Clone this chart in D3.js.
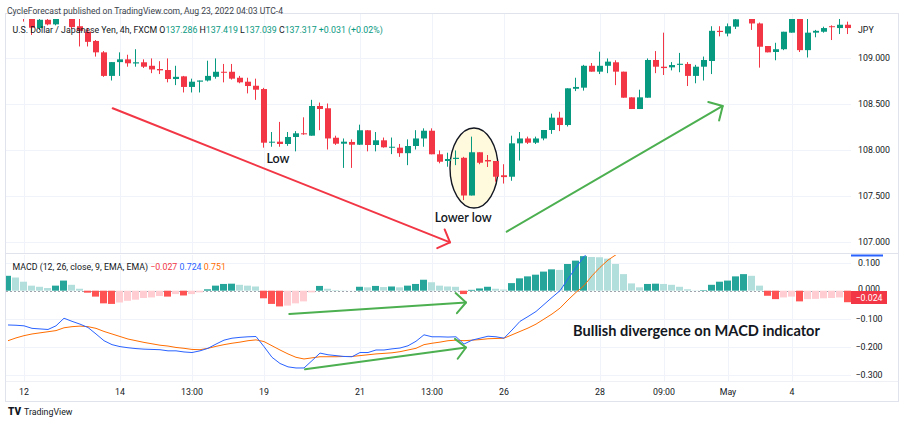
<!DOCTYPE html>
<html><head><meta charset="utf-8">
<script src="https://cdn.jsdelivr.net/npm/d3@7"></script>
<style>body{margin:0;background:#fff}svg{display:block}</style>
</head><body><svg id="c" width="904" height="426"></svg>
<script>
// ---- DATA (bar index 0 = first 4h bar at left edge) ----
const opens  = [109.62,109.58,109.55,109.48,109.32,109.41,109.36,109.45,109.50,109.34,109.28,109.18,109.056,108.80,108.95,108.98,108.935,108.948,108.91,108.875,108.864,108.766,108.795,108.68,108.737,108.75,108.79,108.845,108.845,108.78,108.737,108.693,108.657,108.074,108.085,108.06,108.136,108.176,108.15,108.473,108.448,108.128,108.063,108.082,108.052,108.209,108.049,108.10,108.024,108.02,107.96,108.038,108.12,108.204,107.948,107.875,107.897,107.91,107.50,107.97,107.886,107.875,107.72,107.704,108.067,108.12,108.074,108.12,108.212,108.346,108.266,108.66,108.672,108.91,108.846,108.91,108.948,108.846,108.567,108.44,108.563,108.973,108.90,108.893,108.92,108.93,108.80,108.90,108.962,109.29,109.26,109.335,109.43,109.45,109.37,109.125,109.06,109.09,109.27,109.46,109.08,109.27,109.28,109.34,109.32,109.356];
const highs  = [109.68,109.64,109.60,109.52,109.46,109.46,109.48,109.53,109.52,109.42,109.32,109.19,109.07,108.95,109.056,109.03,109.09,108.98,108.99,108.96,108.99,108.91,108.80,108.77,108.75,108.965,108.99,108.93,108.93,108.80,108.78,108.77,108.67,108.19,108.30,108.19,108.20,108.35,108.54,108.51,108.50,108.15,108.12,108.11,108.27,108.21,108.19,108.13,108.13,108.06,108.11,108.21,108.23,108.23,107.99,107.965,107.99,107.92,108.14,107.97,107.94,107.875,107.84,108.15,108.19,108.14,108.14,108.21,108.39,108.41,108.665,108.78,108.92,108.94,109.063,108.99,108.97,108.846,108.567,108.65,108.99,109.07,109.27,108.95,109.05,108.95,108.92,109.01,109.34,109.34,109.37,109.45,109.52,109.50,109.38,109.125,109.16,109.28,109.50,109.50,109.42,109.30,109.335,109.35,109.42,109.39];
const lows   = [109.55,109.50,109.39,109.245,109.30,109.35,109.35,109.44,109.31,109.12,109.12,109.01,108.79,108.75,108.80,108.90,108.90,108.886,108.83,108.82,108.73,108.70,108.62,108.62,108.62,108.74,108.77,108.73,108.76,108.72,108.61,108.54,108.02,108.03,108.03,108.04,107.98,108.16,108.15,108.21,108.00,108.05,107.80,107.80,108.05,107.98,107.98,108.02,107.95,107.92,107.83,108.00,108.03,107.948,107.85,107.813,107.83,107.45,107.50,107.84,107.81,107.65,107.63,107.66,107.88,108.06,108.06,108.10,108.17,108.20,108.25,108.635,108.64,108.846,108.82,108.83,108.70,108.563,108.44,108.44,108.563,108.83,108.81,108.86,108.84,108.69,108.72,108.75,108.82,109.23,109.23,109.31,109.43,109.30,108.89,109.056,108.97,109.08,109.27,109.06,109.00,109.22,109.27,109.19,109.255,109.255];
const closes = [109.58,109.60,109.46,109.324,109.41,109.36,109.45,109.50,109.33,109.29,109.17,109.056,108.80,108.95,108.98,108.937,108.948,108.90,108.87,108.86,108.766,108.79,108.68,108.737,108.75,108.80,108.845,108.838,108.77,108.73,108.69,108.65,108.074,108.085,108.06,108.136,108.176,108.165,108.473,108.44,108.12,108.063,108.085,108.052,108.209,108.049,108.10,108.024,108.03,107.96,108.038,108.12,108.204,107.948,107.867,107.897,107.91,107.50,107.97,107.856,107.87,107.704,107.70,108.067,108.12,108.074,108.12,108.212,108.346,108.266,108.665,108.68,108.91,108.846,108.91,108.955,108.846,108.563,108.44,108.567,108.973,108.90,108.885,108.918,108.932,108.80,108.90,108.973,109.29,109.277,109.34,109.415,109.48,109.37,109.117,109.056,109.09,109.28,109.46,109.08,109.27,109.29,109.32,109.33,109.356,109.32];
const macdLine = [-0.122,-0.123,-0.125,-0.134,-0.136,-0.138,-0.125,-0.098,-0.109,-0.119,-0.131,-0.154,-0.178,-0.192,-0.199,-0.203,-0.206,-0.208,-0.209,-0.210,-0.214,-0.214,-0.218,-0.220,-0.214,-0.205,-0.190,-0.176,-0.169,-0.166,-0.164,-0.163,-0.199,-0.237,-0.259,-0.271,-0.275,-0.275,-0.249,-0.222,-0.228,-0.231,-0.234,-0.235,-0.220,-0.220,-0.211,-0.211,-0.207,-0.204,-0.196,-0.180,-0.157,-0.164,-0.164,-0.165,-0.164,-0.190,-0.176,-0.169,-0.162,-0.164,-0.169,-0.140,-0.109,-0.092,-0.074,-0.049,-0.024,0.000,0.042,0.083,0.121,0.150,0.175,0.195,0.205,0.200,0.190,0.185,0.195,0.200,0.205,0.205,0.205,0.200,0.200,0.205,0.225,0.245,0.260,0.280,0.295,0.300,0.285,0.265,0.255,0.255,0.262,0.250,0.250,0.250,0.252,0.252,0.253,0.245];
const signalLine = [-0.178,-0.168,-0.160,-0.154,-0.150,-0.146,-0.142,-0.132,-0.128,-0.126,-0.128,-0.134,-0.145,-0.154,-0.163,-0.172,-0.178,-0.184,-0.189,-0.194,-0.197,-0.202,-0.205,-0.209,-0.210,-0.205,-0.198,-0.192,-0.187,-0.183,-0.178,-0.175,-0.181,-0.196,-0.211,-0.225,-0.237,-0.243,-0.239,-0.235,-0.235,-0.235,-0.234,-0.234,-0.231,-0.228,-0.225,-0.223,-0.221,-0.217,-0.211,-0.205,-0.192,-0.187,-0.183,-0.178,-0.176,-0.178,-0.176,-0.174,-0.171,-0.170,-0.169,-0.157,-0.145,-0.133,-0.119,-0.101,-0.083,-0.062,-0.033,-0.006,0.018,0.053,0.083,0.109,0.128,0.141,0.150,0.157,0.165,0.172,0.178,0.183,0.188,0.191,0.193,0.195,0.200,0.208,0.217,0.228,0.238,0.245,0.250,0.250,0.250,0.252,0.255,0.254,0.254,0.253,0.253,0.253,0.253,0.252];
const histValues = [0.053,0.047,0.032,0.018,0.014,0.0095,0.018,0.036,0.021,0.007,-0.007,-0.021,-0.045,-0.047,-0.042,-0.036,-0.032,-0.026,-0.024,-0.019,-0.021,-0.012,-0.017,-0.012,-0.006,0.005,0.018,0.024,0.025,0.021,0.018,0.015,-0.027,-0.047,-0.056,-0.053,-0.045,-0.038,-0.006,0.017,0.007,0.002,0.001,0.0005,0.014,0.012,0.017,0.013,0.015,0.012,0.018,0.024,0.039,0.030,0.018,0.015,0.014,-0.012,0.003,0.008,0.014,0.007,0.004,0.027,0.044,0.051,0.057,0.068,0.076,0.074,0.095,0.107,0.123,0.120,0.119,0.114,0.095,0.059,0.026,0.012,0.024,0.025,0.024,0.021,0.014,0.005,0.001,0.002,0.021,0.032,0.036,0.051,0.059,0.053,0.018,-0.018,-0.030,-0.024,-0.021,-0.038,-0.030,-0.029,-0.027,-0.026,-0.024,-0.041];
const timeTickIdx = [2,14,23,32,44,53,62,74,82,90,98];
const timeTickLabels = ["12","14","13:00","19","21","13:00","26","28","09:00","May","4"];
const priceTicks = [107,107.5,108,108.5,109];
const macdTicks = [0.1,0,-0.1,-0.2,-0.3];

// ---- STYLE / LAYOUT ----
const GREEN="#089981", RED="#f23645";
const W=904,H=426;
const plotL=6, plotR=851;
const priceTop=19, priceBot=253, macdTop=255, macdBot=381;
const FONT="Roboto, 'Liberation Sans', sans-serif";
const ANN="Lato, 'Open Sans', sans-serif";

const svg=d3.select('#c');
svg.append('rect').attr('width',W).attr('height',H).attr('fill','#fff');

const x = d3.scaleLinear().domain([0,105]).range([8,848]);
const yP = d3.scaleLinear().domain([107,109]).range([241.5,57.5]);
const yM = d3.scaleLinear().domain([-0.3,0.1]).range([375,262.6]);

const defs=svg.append('defs');
defs.append('clipPath').attr('id','clipP').append('rect').attr('x',plotL).attr('y',priceTop).attr('width',plotR-plotL).attr('height',priceBot-priceTop);
defs.append('clipPath').attr('id','clipM').append('rect').attr('x',plotL).attr('y',macdTop).attr('width',plotR-plotL).attr('height',macdBot-macdTop);

// frame
svg.append('rect').attr('x',5.5).attr('y',13.5).attr('width',893).attr('height',388).attr('fill','none').attr('stroke','#e0e3eb');
svg.append('line').attr('x1',6).attr('x2',898).attr('y1',253.5).attr('y2',253.5).attr('stroke','#e0e3eb');
svg.append('line').attr('x1',6).attr('x2',898).attr('y1',381.5).attr('y2',381.5).attr('stroke','#eef0f5');

// header
svg.append('text').attr('x',7).attr('y',14).attr('font-family',FONT).attr('font-size',8.6).attr('fill','#3b3f4a')
  .text('CycleForecast published on TradingView.com, Aug 23, 2022 04:03 UTC-4');

// grid
const grid=svg.append('g').attr('stroke','#f0f3fa').attr('stroke-width',1);
timeTickIdx.forEach(k=>{
  const gx=Math.round(x(k))+0.5;
  grid.append('line').attr('x1',gx).attr('x2',gx).attr('y1',priceTop-5).attr('y2',priceBot);
  grid.append('line').attr('x1',gx).attr('x2',gx).attr('y1',macdTop).attr('y2',macdBot);
});
priceTicks.forEach(p=>{const gy=Math.round(yP(p))+0.5;grid.append('line').attr('x1',plotL).attr('x2',plotR).attr('y1',gy).attr('y2',gy);});
macdTicks.filter(v=>v!==0).forEach(v=>{const gy=Math.round(yM(v))+0.5;grid.append('line').attr('x1',plotL).attr('x2',plotR).attr('y1',gy).attr('y2',gy);});

// ---- PRICE PANE ----
const pg=svg.append('g').attr('clip-path','url(#clipP)');
pg.append('ellipse').attr('cx',x(58.25)).attr('cy',yP(107.799)).attr('rx',24).attr('ry',40)
  .attr('fill','#fff9dd').attr('stroke','#131722').attr('stroke-width',1.4);

const candles=d3.range(opens.length).map(k=>({k,o:opens[k],h:highs[k],l:lows[k],c:closes[k]}));
pg.selectAll('rect.wick').data(candles).join('rect').attr('class','wick')
  .attr('x',d=>Math.round(x(d.k))-1).attr('width',1)
  .attr('y',d=>yP(d.h)).attr('height',d=>Math.max(1,yP(d.l)-yP(d.h)))
  .attr('fill',d=>d.c>=d.o?GREEN:RED);
pg.selectAll('rect.body').data(candles).join('rect').attr('class','body')
  .attr('x',d=>Math.round(x(d.k))-3).attr('width',6)
  .attr('y',d=>yP(Math.max(d.o,d.c))).attr('height',d=>Math.max(1,Math.abs(yP(d.o)-yP(d.c))))
  .attr('fill',d=>d.c>=d.o?GREEN:RED);

function arrow(g,x1,y1,x2,y2,color,len,sw){
  g.append('line').attr('x1',x1).attr('y1',y1).attr('x2',x2).attr('y2',y2).attr('stroke',color).attr('stroke-width',sw).attr('stroke-linecap','round');
  const a=Math.atan2(y2-y1,x2-x1);
  const p=[a+Math.PI-0.8,a+Math.PI+0.8].map(t=>[x2+len*Math.cos(t),y2+len*Math.sin(t)]);
  g.append('path').attr('d',`M${p[0][0]},${p[0][1]}L${x2},${y2}L${p[1][0]},${p[1][1]}`).attr('fill','none')
    .attr('stroke',color).attr('stroke-width',sw).attr('stroke-linecap','round').attr('stroke-linejoin','round');
}
arrow(pg,x(13.09),yP(108.448),x(55.25),yP(106.99),'#f23645',14,2);
arrow(pg,x(62.34),yP(107.107),x(89.34),yP(108.473),'#4caf50',15,2);

pg.append('text').attr('x',x(33.75)).attr('y',yP(107.897)).attr('dy','0.35em').attr('text-anchor','middle')
  .attr('font-family',ANN).attr('font-weight',600).attr('font-size',12.5).attr('fill','#131722').text('Low');
pg.append('text').attr('x',x(56.9)).attr('y',yP(107.259)).attr('dy','0.35em').attr('text-anchor','middle')
  .attr('font-family',ANN).attr('font-weight',600).attr('font-size',12.5).attr('fill','#131722').text('Lower low');

// legend
const lg=svg.append('text').attr('x',12.5).attr('y',32.5).attr('font-family',FONT).attr('font-size',8.8).attr('fill','#131722');
lg.append('tspan').text('U.S. Dollar / Japanese Yen, 4h, FXCM O');
lg.append('tspan').attr('fill',GREEN).text('137.286');
lg.append('tspan').text(' H');
lg.append('tspan').attr('fill',GREEN).text('137.419');
lg.append('tspan').text(' L');
lg.append('tspan').attr('fill',GREEN).text('137.039');
lg.append('tspan').text(' C');
lg.append('tspan').attr('fill',GREEN).text('137.317');
lg.append('tspan').attr('fill',GREEN).text(' +0.031 (+0.02%)');

// price axis
const pa=svg.append('g').attr('transform','translate(858,0)')
  .call(d3.axisRight(yP).tickValues(priceTicks).tickSize(0).tickPadding(0).tickFormat(d3.format('.3f')));
pa.select('.domain').remove();
pa.selectAll('text').attr('font-family',FONT).attr('font-size',8.8).attr('fill','#131722').attr('text-anchor','start');
svg.append('text').attr('x',858).attr('y',32.5).attr('font-family',FONT).attr('font-size',8.8).attr('fill','#131722').text('JPY');

// ---- MACD PANE ----
const mg=svg.append('g').attr('clip-path','url(#clipM)');
mg.append('line').attr('x1',plotL).attr('x2',plotR).attr('y1',Math.round(yM(0))+0.5).attr('y2',Math.round(yM(0))+0.5)
  .attr('stroke','#a0a4ad').attr('stroke-dasharray','2,2');
const hist=histValues.map((v,k)=>{const prev=k>0?histValues[k-1]:-Infinity;
  return {k,v,col: v>=0 ? (v>prev?'#26a69a':'#b2dfdb') : (v<prev?'#ff5252':'#ffcdd2')};});
mg.selectAll('rect.h').data(hist).join('rect').attr('class','h')
  .attr('x',d=>Math.round(x(d.k))-4).attr('width',7)
  .attr('y',d=>Math.min(yM(d.v),yM(0))).attr('height',d=>Math.abs(yM(d.v)-yM(0)))
  .attr('fill',d=>d.col);
const ln=d3.line().x((d,k)=>x(k)).y(d=>yM(d));
mg.append('path').datum(signalLine).attr('d',ln).attr('fill','none').attr('stroke','#ff6d00').attr('stroke-width',1);
mg.append('path').datum(macdLine).attr('d',ln).attr('fill','none').attr('stroke','#2962ff').attr('stroke-width',1);

arrow(mg,x(35.16),yM(-0.0829),x(57.25),yM(-0.042),'#4caf50',14,2);
arrow(mg,x(37.13),yM(-0.2797),x(57.25),yM(-0.2021),'#4caf50',14,2);
mg.append('text').attr('x',x(86.06)).attr('y',yM(-0.1423)).attr('dy','0.35em').attr('text-anchor','middle')
  .attr('font-family',ANN).attr('font-weight',700).attr('font-size',14.6).attr('fill','#131722').text('Bullish divergence on MACD indicator');

const ml=svg.append('text').attr('x',12.5).attr('y',269.5).attr('font-family',FONT).attr('font-size',8.8).attr('fill','#131722');
ml.append('tspan').text('MACD (12, 26, close, 9, EMA, EMA) ');
ml.append('tspan').attr('fill','#f23645').text('\u22120.027');
ml.append('tspan').text(' ');
ml.append('tspan').attr('fill','#2962ff').text('0.724');
ml.append('tspan').text(' ');
ml.append('tspan').attr('fill','#ff6d00').text('0.751');

const ma=svg.append('g').attr('transform','translate(869,0)')
  .call(d3.axisRight(yM).tickValues(macdTicks).tickSize(0).tickPadding(0).tickFormat(d3.format('.3f')));
ma.select('.domain').remove();
ma.selectAll('text').attr('font-family',FONT).attr('font-size',8.8).attr('fill','#131722').attr('text-anchor','middle');
ma.selectAll('.tick').filter(d=>d===0).select('text').attr('dy','0.05em');
// last value label (partly covers the 0.000 tick, as in the reference)
svg.append('rect').attr('x',851).attr('y',291).attr('width',36).attr('height',13).attr('fill','#f23645');
svg.append('text').attr('x',869).attr('y',297.5).attr('dy','0.35em').attr('text-anchor','middle').attr('font-family',FONT).attr('font-size',8.8).attr('fill','#fff').text('\u22120.024');
svg.append('rect').attr('x',851).attr('y',254.5).attr('width',32).attr('height',2).attr('fill','#2962ff');

// time axis
svg.append('g').selectAll('text').data(timeTickIdx).join('text')
  .attr('x',d=>x(d)).attr('y',395).attr('text-anchor','middle').attr('font-family',FONT).attr('font-size',8.8).attr('fill','#131722')
  .text((d,i)=>timeTickLabels[i]);

// footer logo
svg.append('text').attr('x',8).attr('y',414.5).attr('font-family',FONT).attr('font-weight',900).attr('font-size',10).attr('fill','#131722').text('TV');
svg.append('text').attr('x',24).attr('y',414.5).attr('font-family',FONT).attr('font-size',8.8).attr('fill','#131722').text('TradingView');
</script></body></html>
